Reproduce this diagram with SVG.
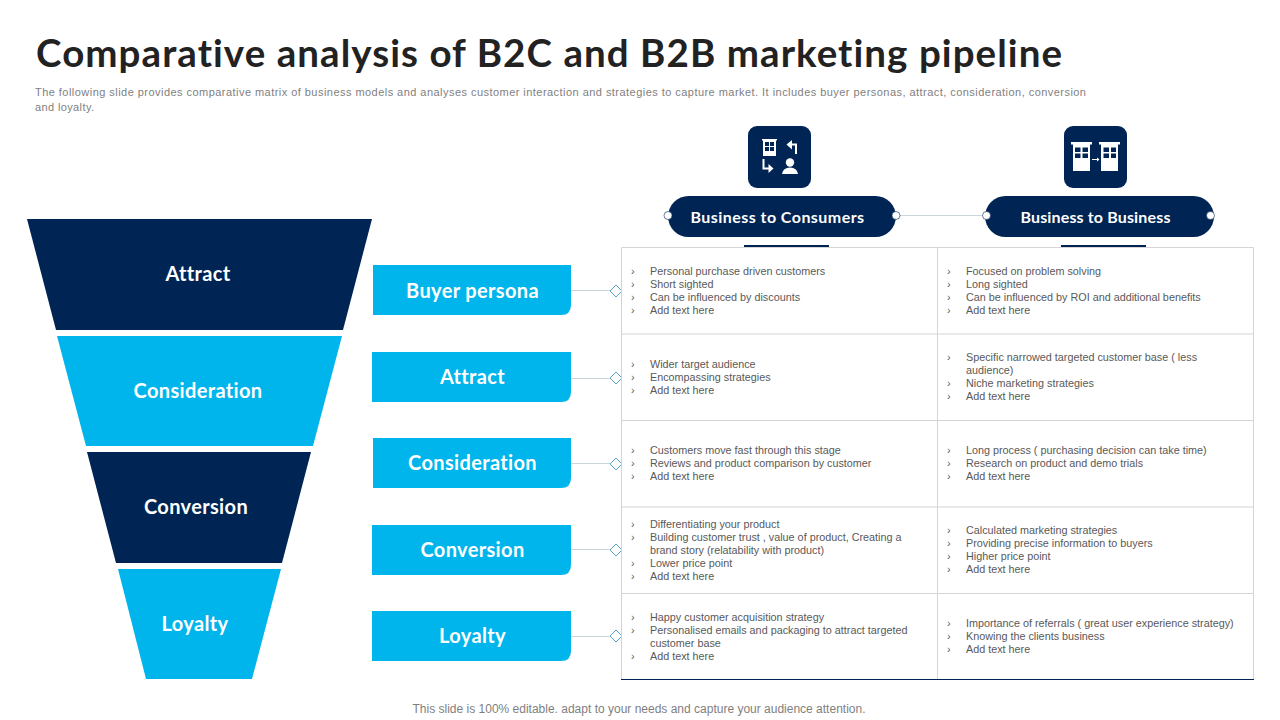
<svg xmlns="http://www.w3.org/2000/svg" width="1280" height="720" viewBox="0 0 1280 720">
<style>
text{font-family:"Lato","Liberation Sans",sans-serif;font-variant-ligatures:none}
.t{font-family:"Liberation Sans",Arial,sans-serif;font-size:10.8px;fill:#595959}
.s{font-family:"Liberation Sans",Arial,sans-serif;font-size:11px;fill:#7f7f7f}
.w{fill:#fff;font-weight:700;text-anchor:middle}
.f{font-size:20px;letter-spacing:.35px}
.l{font-size:20px;letter-spacing:.35px}
.h{font-size:16px;letter-spacing:.45px}
.h2{font-size:16px;letter-spacing:.15px}
.navy{fill:#002554}
.cy{fill:#00b5ec}
.grid{stroke:#d4d4d4;stroke-width:1;fill:none}
.con{stroke:#c9d6da;stroke-width:1;fill:none}
.dia{fill:#fff;stroke:#5ba6c4;stroke-width:1}
.dot{fill:#fff;stroke:#002554;stroke-width:.6}
.ic{fill:#fff}
.icl{fill:none;stroke:#fff;stroke-width:2}
</style>
<rect width="1280" height="720" fill="#fff"/>
<text id="title" x="36" y="67" font-size="38.500" font-weight="700" fill="#222" textLength="1026" lengthAdjust="spacing">Comparative analysis of B2C and B2B marketing pipeline</text>
<g id="subtitle">
<text x="35" y="96" class="s" textLength="1051">The following slide provides comparative matrix of business models and analyses customer interaction and strategies to capture market. It includes buyer personas, attract, consideration, conversion</text>
<text x="35" y="111" class="s" textLength="59">and loyalty.</text>
</g>
<g id="funnel">
<g id="f-attract"><polygon class="navy" points="27,219 372,219 343,330 56,330"/><text class="w f" x="198" y="281">Attract</text></g>
<g id="f-consideration"><polygon class="cy" points="57,336 342,336 313,446 86,446"/><text class="w f" x="198" y="398">Consideration</text></g>
<g id="f-conversion"><polygon class="navy" points="87,452 311,452 282,563 116,563"/><text class="w f" x="196" y="514">Conversion</text></g>
<g id="f-loyalty"><polygon class="cy" points="118,569 281,569 252,679 146,679"/><text class="w f" x="195" y="631">Loyalty</text></g>
</g>
<g id="connectors">
<path class="con" d="M571 290.500H610M571 378.500H610M571 463.500H610M571 549.500H610M571 636.500H610M896 215.500H985"/>
</g>
<g id="row-labels">
<g id="l-buyer"><path class="cy" d="M373 265H571V305Q571 315 561 315H373Z"/><text class="w l" x="472.500" y="298">Buyer persona</text></g>
<g id="l-attract"><path class="cy" d="M372 352H571V392Q571 402 561 402H372Z"/><text class="w l" x="472.500" y="384">Attract</text></g>
<g id="l-consideration"><path class="cy" d="M373 438H571V478Q571 488 561 488H373Z"/><text class="w l" x="472.500" y="470">Consideration</text></g>
<g id="l-conversion"><path class="cy" d="M372 525H571V565Q571 575 561 575H372Z"/><text class="w l" x="472.500" y="557">Conversion</text></g>
<g id="l-loyalty"><path class="cy" d="M372 611H571V651Q571 661 561 661H372Z"/><text class="w l" x="472.500" y="643">Loyalty</text></g>
</g>
<g id="diamonds">
<polygon class="dia" points="616,285 622,291 616,297 610,291"/>
<polygon class="dia" points="616,372 622,378 616,384 610,378"/>
<polygon class="dia" points="616,458 622,464 616,470 610,464"/>
<polygon class="dia" points="616,544 622,550 616,556 610,550"/>
<polygon class="dia" points="616,630 622,636 616,642 610,636"/>
</g>
<g id="matrix">
<rect x="744" y="245" width="85" height="3" class="navy"/>
<rect x="1061" y="245" width="85" height="3" class="navy"/>
<path class="grid" d="M621.500 247.500H1253.500V679.500M621.500 247.500V679.500M937.500 247.500V679.500M622 334H1253M622 420.500H1253M622 507H1253M622 593.500H1253"/>
<path d="M621 679.500H1254" stroke="#002554" stroke-width="1" fill="none"/>
<g id="c-1-1"><text x="631" y="275" class="t">›</text><text x="650" y="275" class="t">Personal purchase driven customers</text><text x="631" y="288" class="t">›</text><text x="650" y="288" class="t">Short sighted</text><text x="631" y="301" class="t">›</text><text x="650" y="301" class="t">Can be influenced by discounts</text><text x="631" y="314" class="t">›</text><text x="650" y="314" class="t">Add text here</text></g>
<g id="c-1-2"><text x="947" y="275" class="t">›</text><text x="966" y="275" class="t">Focused on problem solving</text><text x="947" y="288" class="t">›</text><text x="966" y="288" class="t">Long sighted</text><text x="947" y="301" class="t">›</text><text x="966" y="301" class="t">Can be influenced by ROI and additional benefits</text><text x="947" y="314" class="t">›</text><text x="966" y="314" class="t">Add text here</text></g>
<g id="c-2-1"><text x="631" y="368" class="t">›</text><text x="650" y="368" class="t">Wider target audience</text><text x="631" y="381" class="t">›</text><text x="650" y="381" class="t">Encompassing strategies</text><text x="631" y="394" class="t">›</text><text x="650" y="394" class="t">Add text here</text></g>
<g id="c-2-2"><text x="947" y="361" class="t">›</text><text x="966" y="361" class="t">Specific narrowed targeted customer base ( less</text><text x="966" y="374" class="t">audience)</text><text x="947" y="387" class="t">›</text><text x="966" y="387" class="t">Niche marketing strategies</text><text x="947" y="400" class="t">›</text><text x="966" y="400" class="t">Add text here</text></g>
<g id="c-3-1"><text x="631" y="454" class="t">›</text><text x="650" y="454" class="t">Customers move fast through this stage</text><text x="631" y="467" class="t">›</text><text x="650" y="467" class="t">Reviews and product comparison by customer</text><text x="631" y="480" class="t">›</text><text x="650" y="480" class="t">Add text here</text></g>
<g id="c-3-2"><text x="947" y="454" class="t">›</text><text x="966" y="454" class="t">Long process ( purchasing decision can take time)</text><text x="947" y="467" class="t">›</text><text x="966" y="467" class="t">Research on product and demo trials</text><text x="947" y="480" class="t">›</text><text x="966" y="480" class="t">Add text here</text></g>
<g id="c-4-1"><text x="631" y="528" class="t">›</text><text x="650" y="528" class="t">Differentiating your product</text><text x="631" y="541" class="t">›</text><text x="650" y="541" class="t">Building customer trust , value of product, Creating a</text><text x="650" y="554" class="t">brand story (relatability with product)</text><text x="631" y="567" class="t">›</text><text x="650" y="567" class="t">Lower price point</text><text x="631" y="580" class="t">›</text><text x="650" y="580" class="t">Add text here</text></g>
<g id="c-4-2"><text x="947" y="534" class="t">›</text><text x="966" y="534" class="t">Calculated marketing strategies</text><text x="947" y="547" class="t">›</text><text x="966" y="547" class="t">Providing precise information to buyers</text><text x="947" y="560" class="t">›</text><text x="966" y="560" class="t">Higher price point</text><text x="947" y="573" class="t">›</text><text x="966" y="573" class="t">Add text here</text></g>
<g id="c-5-1"><text x="631" y="621" class="t">›</text><text x="650" y="621" class="t">Happy customer acquisition strategy</text><text x="631" y="634" class="t">›</text><text x="650" y="634" class="t">Personalised emails and packaging to attract targeted</text><text x="650" y="647" class="t">customer base</text><text x="631" y="660" class="t">›</text><text x="650" y="660" class="t">Add text here</text></g>
<g id="c-5-2"><text x="947" y="627" class="t">›</text><text x="966" y="627" class="t">Importance of referrals ( great user experience strategy)</text><text x="947" y="640" class="t">›</text><text x="966" y="640" class="t">Knowing the clients business</text><text x="947" y="653" class="t">›</text><text x="966" y="653" class="t">Add text here</text></g>
</g>
<g id="h-b2c">
<rect class="navy" x="668" y="196" width="228" height="41" rx="20.500"/>
<circle class="dot" cx="668" cy="215.500" r="4"/><circle class="dot" cx="896" cy="215.500" r="4"/>
<text class="w h" x="777.500" y="223">Business to Consumers</text>
</g>
<g id="h-b2b">
<rect class="navy" x="985" y="196" width="229" height="41" rx="20.500"/>
<circle class="dot" cx="986.500" cy="215.500" r="4"/><circle class="dot" cx="1210.500" cy="215.500" r="4"/>
<text class="w h2" x="1095.500" y="223">Business to Business</text>
</g>
<g id="icon-b2c">
<rect class="navy" x="748" y="126" width="63" height="62" rx="9"/>
<path class="ic" fill-rule="evenodd" d="M762 139H777V140.500H776V156H763V140.500H762ZM765 142V146H769V142ZM770 142V146H774V142ZM765 147V151H769V147ZM770 147V151H774V147Z"/>
<path class="icl" d="M796 154V144.500H790"/><path class="ic" d="M786.500 144.500L792 140V149.500Z"/>
<path class="icl" d="M763.500 159V168.500H769"/><path class="ic" d="M773.500 168.500L768.500 164V173Z"/>
<circle class="ic" cx="790" cy="162.500" r="4.200"/><path class="ic" d="M782 174Q783 167.500 790 167.500Q797 167.500 798 174Z"/>
</g>
<g id="icon-b2b">
<rect class="navy" x="1064" y="126" width="63" height="62" rx="9"/>
<path class="ic" fill-rule="evenodd" d="M1071 142H1092V144.500H1090V171H1073V144.500H1071ZM1075 147.500V152H1080.500V147.500ZM1082.500 147.500V152H1088V147.500ZM1075 153.500V158H1080.500V153.500ZM1082.500 153.500V158H1088V153.500Z"/>
<path class="ic" fill-rule="evenodd" d="M1099 142H1120V144.500H1118V171H1101V144.500H1099ZM1103.500 147.500V152H1109V147.500ZM1111 147.500V152H1116V147.500ZM1103.500 153.500V158H1109V153.500ZM1111 153.500V158H1116V153.500Z"/>
<path class="ic" d="M1092 159H1097V157.500L1099.500 159.500L1097 161.500V160H1092Z"/>
</g>
<text id="footer" x="639" y="713" text-anchor="middle" style="font-family:'Liberation Sans',Arial,sans-serif" font-size="12" fill="#7f7f7f">This slide is 100% editable. adapt to your needs and capture your audience attention.</text>
</svg>
